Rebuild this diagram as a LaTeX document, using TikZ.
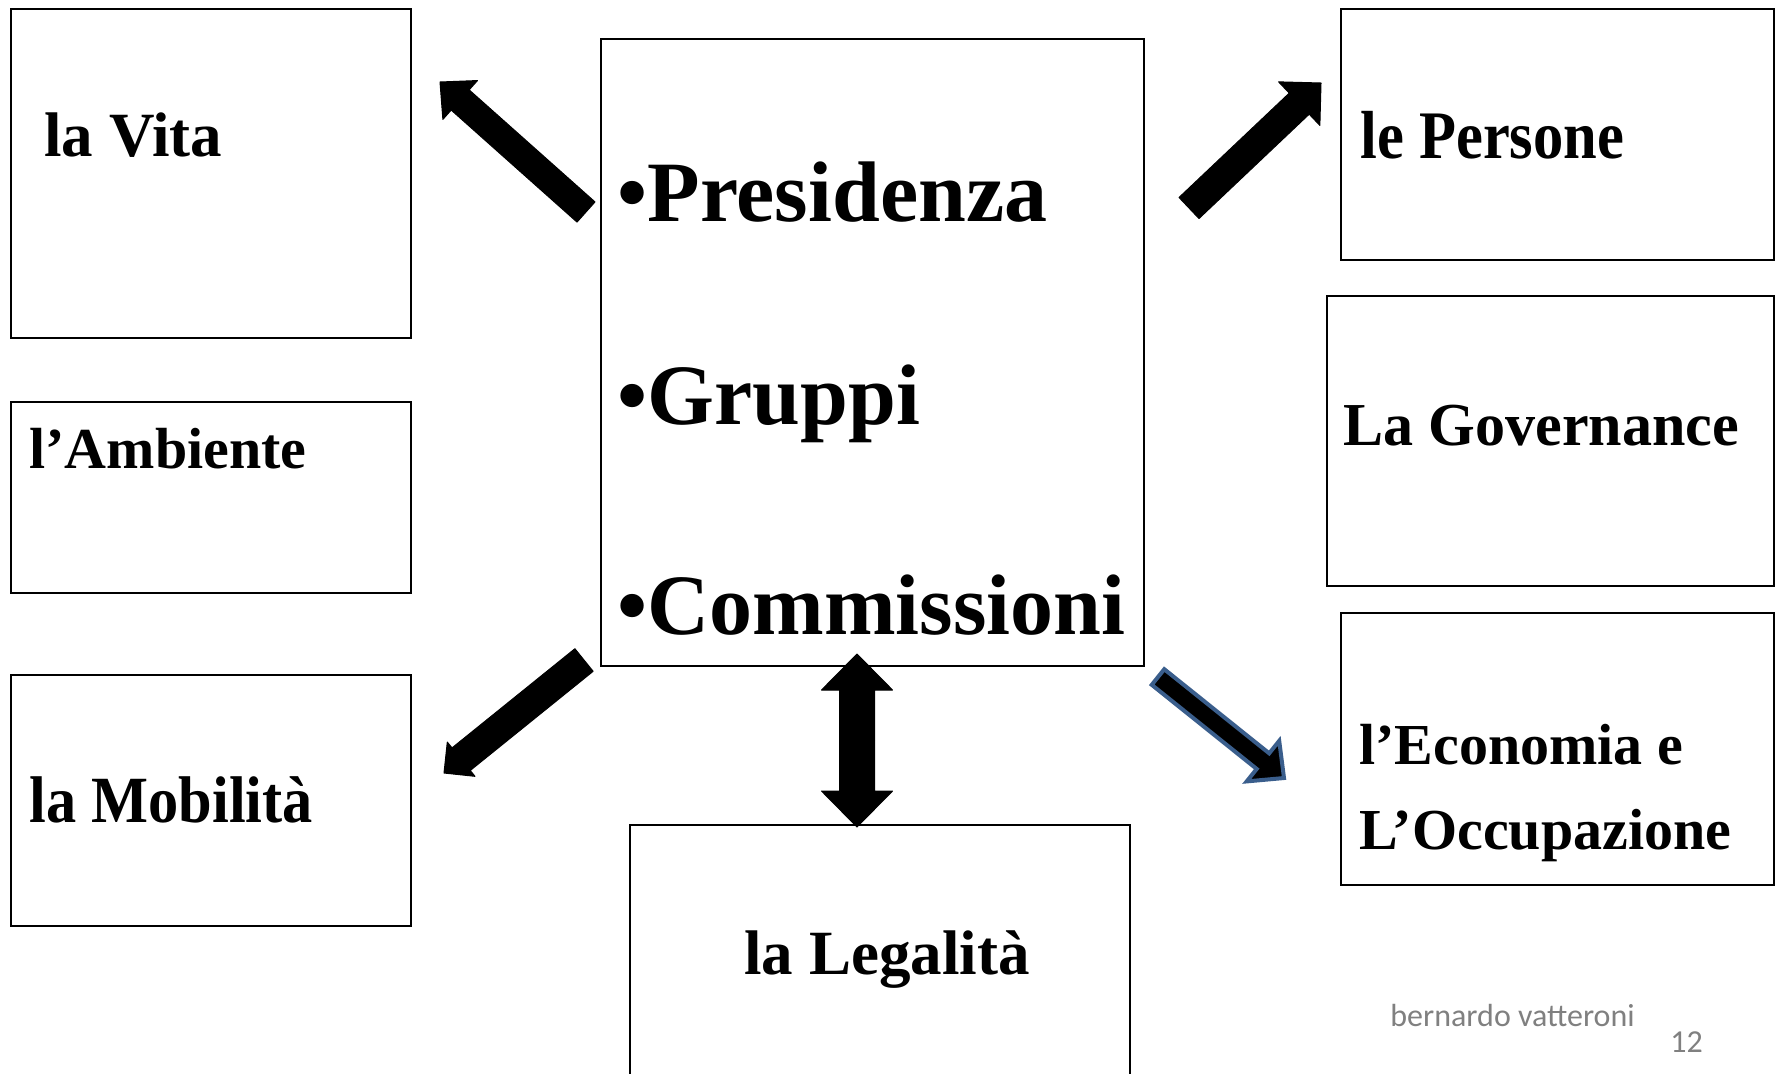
\documentclass[tikz,border=0pt]{standalone}
\usepackage{graphicx}
\usepackage{fontspec}
\setmainfont{Liberation Serif}
\newfontfamily\footfont{Carlito}
\usetikzlibrary{calc}

\definecolor{arrowblue}{RGB}{58,94,140}
\definecolor{footgray}{RGB}{128,128,128}

\tikzset{
  box/.style={draw, line width=1pt, inner sep=0pt, anchor=north west},
  lbl/.style={anchor=base west, inner sep=0pt, font=\bfseries\fontsize{#1}{#1}\selectfont},
  blockarrow/.style={fill=black, draw=black, line width=0.5pt, line join=round},
  outlinearrow/.style={fill=black, draw=arrowblue, line width=2pt, line join=miter}
}

% block arrow: tail, tip, half shaft, half head, head length
\newcommand{\fatarrow}[6][]{%
  \coordinate (fa-base) at ($(#3)!#6!(#2)$);
  \path[#1] ($(#2)!#4!90:(#3)$) -- ($(fa-base)!#4!-90:(#2)$) -- ($(fa-base)!#5!-90:(#2)$) -- (#3)
    -- ($(fa-base)!#5!90:(#2)$) -- ($(fa-base)!#4!90:(#2)$) -- ($(#2)!#4!-90:(#3)$) -- cycle;}

\begin{document}
\begin{tikzpicture}[x=0.5pt, y=-0.5pt]
  \useasboundingbox (0,0) rectangle (1775,1073);

  % boxes
  \node[box, minimum width=200pt, minimum height=164.5pt] (vita) at (10,8) {};
  \node[box, minimum width=200pt, minimum height=95.5pt] (ambiente) at (10,401) {};
  \node[box, minimum width=200pt, minimum height=125.5pt] (mobilita) at (10,674) {};
  \node[box, minimum width=271.5pt, minimum height=313.5pt] (centro) at (600,38) {};
  \node[box, minimum width=250pt, minimum height=138pt] (legalita) at (629,824) {};
  \node[box, minimum width=216.5pt, minimum height=125.5pt] (persone) at (1340,8) {};
  \node[box, minimum width=223.5pt, minimum height=145pt] (governance) at (1326,295) {};
  \node[box, minimum width=216.5pt, minimum height=136pt] (economia) at (1340,612) {};

  % texts
  \node[lbl=31.5] (t-vita) at (44,156) {la Vita};
  \node[lbl=29] (t-ambiente) at (29,468) {l’Ambiente};
  \node[lbl=33] (t-mobilita) at (29,822) {\scalebox{0.915}[1]{la Mobilità}};
  \node[lbl=43] (t-pres) at (617,221) {•Presidenza};
  \node[lbl=43] (t-gruppi) at (617,424) {•Gruppi};
  \node[lbl=43] (t-comm) at (617,634) {•Commissioni};
  \node[lbl=31.5] (t-legalita) at (744,974) {la Legalità};
  \node[lbl=34] (t-persone) at (1360,158) {\scalebox{0.89}[1]{le Persone}};
  \node[lbl=30.5] (t-governance) at (1343,445) {\scalebox{0.985}[1]{La Governance}};
  \node[lbl=29] (t-economia) at (1359,764) {l’Economia e};
  \node[lbl=29] (t-occupazione) at (1359,849) {L’Occupazione};

  \node[anchor=base west, inner sep=0pt, text=footgray, font=\footfont\fontsize{16}{16}\selectfont] (autore) at (1390,1026) {bernardo vatteroni};
  \node[anchor=base west, inner sep=0pt, text=footgray, font=\footfont\fontsize{16}{16}\selectfont] (pagina) at (1670,1052) {12};

  % arrows
  \coordinate (nw-a) at (586,212);
  \coordinate (nw-b) at (440,82);
  \coordinate (ne-a) at (1189,208);
  \coordinate (ne-b) at (1321,83);
  \coordinate (sw-a) at (584,660);
  \coordinate (sw-b) at (444,773);
  \coordinate (se-a) at (1158,677);
  \coordinate (se-b) at (1284,778);
  \coordinate (v-mid) at (857,740);
  \coordinate (v-top) at (857,654);
  \coordinate (v-bot) at (857,827);

  \fatarrow[blockarrow]{nw-a}{nw-b}{6.75pt}{13pt}{13.5pt}
  \fatarrow[blockarrow]{ne-a}{ne-b}{7.25pt}{15pt}{15pt}
  \fatarrow[blockarrow]{sw-a}{sw-b}{7.25pt}{11pt}{11pt}
  \fatarrow[outlinearrow]{se-a}{se-b}{5pt}{13pt}{13.5pt}
  \fatarrow[blockarrow]{v-mid}{v-top}{8.75pt}{17.75pt}{18pt}
  \fatarrow[blockarrow]{v-mid}{v-bot}{8.75pt}{17.75pt}{18pt}
\end{tikzpicture}
\end{document}
